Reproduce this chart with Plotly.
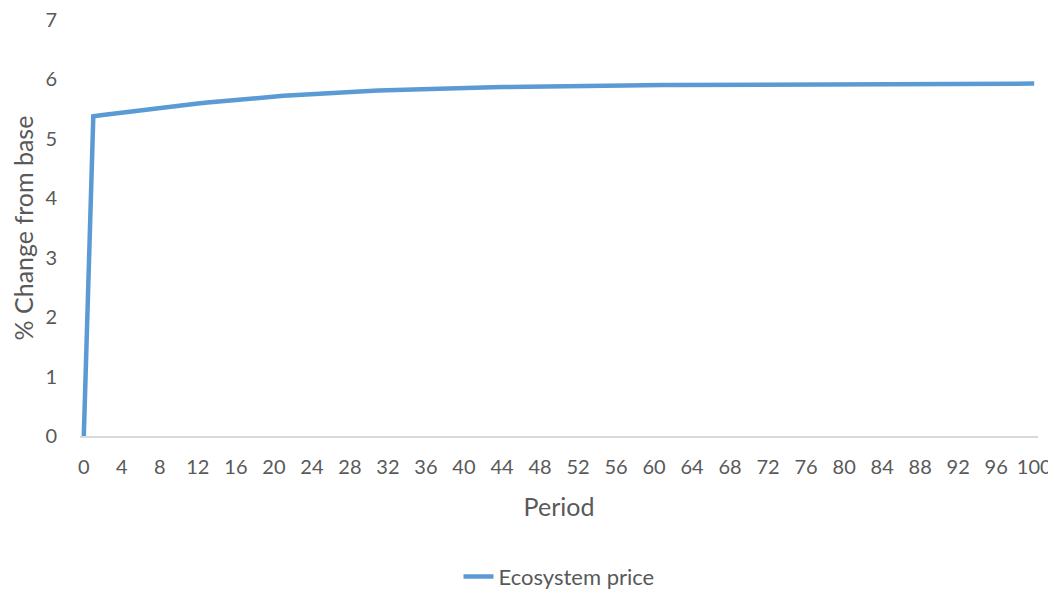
import plotly.graph_objects as go

periods = list(range(0, 101))
ecosystem_price = [
    0.0, 5.38, 5.401, 5.422, 5.443, 5.463, 5.483, 5.503, 5.522, 5.541,
    5.559, 5.577, 5.594, 5.611, 5.627, 5.643, 5.658, 5.672, 5.686, 5.699,
    5.712, 5.724, 5.735, 5.746, 5.756, 5.766, 5.775, 5.784, 5.792, 5.800,
    5.807, 5.814, 5.820, 5.826, 5.832, 5.837, 5.842, 5.847, 5.851, 5.855,
    5.859, 5.863, 5.866, 5.869, 5.872, 5.875, 5.878, 5.880, 5.883, 5.885,
    5.887, 5.889, 5.891, 5.893, 5.895, 5.897, 5.898, 5.900, 5.901, 5.903,
    5.904, 5.905, 5.906, 5.907, 5.908, 5.909, 5.910, 5.911, 5.912, 5.913,
    5.914, 5.915, 5.916, 5.917, 5.918, 5.919, 5.919, 5.920, 5.921, 5.921,
    5.922, 5.922, 5.923, 5.923, 5.924, 5.924, 5.925, 5.925, 5.926, 5.926,
    5.926, 5.927, 5.927, 5.927, 5.928, 5.928, 5.928, 5.929, 5.929, 5.929,
    5.93,
]
x_ticks = list(range(0, 101, 4))
y_ticks = list(range(0, 8))

TXT = "#595959"
FONT = "Lato, 'Open Sans', sans-serif"

fig = go.Figure()
fig.add_trace(go.Scatter(
    x=periods, y=ecosystem_price, mode="lines", name="Ecosystem price",
    line=dict(color="#5B9BD5", width=4.5),
))

# page body has an 8px default margin, so the figure is sized to fit inside it
fig.update_layout(
    width=1048, height=584,
    paper_bgcolor="white", plot_bgcolor="white",
    margin=dict(l=72, r=18, t=12, b=156),
    font=dict(family=FONT, size=20, color=TXT),
    showlegend=True,
    legend=dict(orientation="h", x=0.5, xanchor="center",
                yref="container", y=0.026, yanchor="middle",
                font=dict(size=22, color=TXT)),
    xaxis=dict(
        range=[-0.4, 100.4], tickmode="array", tickvals=x_ticks,
        ticktext=[str(t) for t in x_ticks],
        showgrid=False, zeroline=False, showline=True, linecolor="#D9D9D9", linewidth=1.5,
        ticks="", tickfont=dict(size=20, color=TXT), ticklabelstandoff=12,
        ticklabeloverflow="allow", automargin=False,
        title=dict(text="Period", font=dict(size=25, color=TXT), standoff=22),
    ),
    yaxis=dict(
        range=[0, 7], tickmode="array", tickvals=y_ticks,
        showgrid=False, zeroline=False, showline=False, ticks="",
        tickfont=dict(size=20, color=TXT), ticklabelstandoff=22,
        ticklabeloverflow="allow", automargin=False,
        title=dict(text="% Change from base", font=dict(size=25, color=TXT), standoff=10),
    ),
)

fig.write_html("out.html")
